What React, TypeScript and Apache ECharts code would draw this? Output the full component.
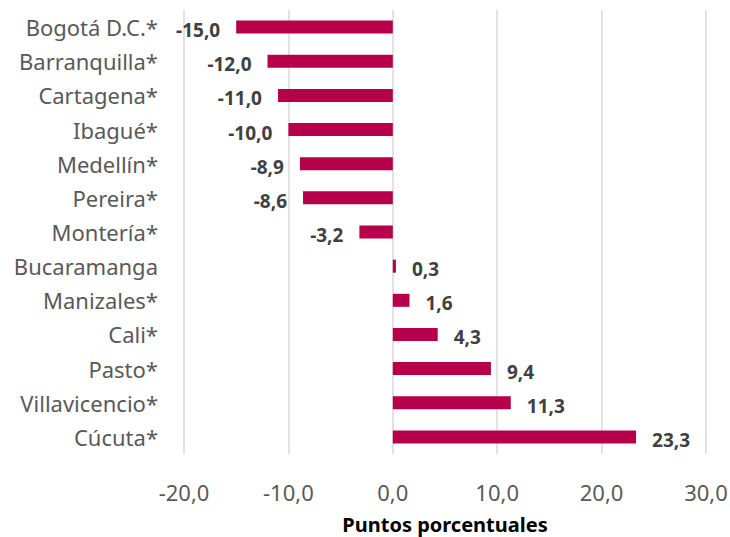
import React, { useEffect, useRef } from "react";
import * as echarts from "echarts";

const categories = [
  "Bogotá D.C.*",
  "Barranquilla*",
  "Cartagena*",
  "Ibagué*",
  "Medellín*",
  "Pereira*",
  "Montería*",
  "Bucaramanga",
  "Manizales*",
  "Cali*",
  "Pasto*",
  "Villavicencio*",
  "Cúcuta*",
];
const values = [-15.0, -12.0, -11.0, -10.0, -8.9, -8.6, -3.2, 0.3, 1.6, 4.3, 9.4, 11.3, 23.3];
const axisMin = -20;
const axisMax = 30;
const axisStep = 10;
const axisTitle = "Puntos porcentuales";

const fmt = (v: number) => v.toFixed(1).replace(".", ",");
const FONT = "'Noto Sans', 'Open Sans', sans-serif";

export default function App() {
  const ref = useRef<HTMLDivElement>(null);
  useEffect(() => {
    document.body.style.margin = "0";
    if (!ref.current) return;
    const chart = echarts.init(ref.current, undefined, { renderer: "svg" });
    chart.setOption({
      animation: false,
      backgroundColor: "#ffffff",
      grid: { left: 184, right: 24, top: 10, bottom: 83, containLabel: false, outerBoundsMode: "none" },
      xAxis: {
        type: "value",
        min: axisMin,
        max: axisMax,
        interval: axisStep,
        name: axisTitle,
        nameLocation: "middle",
        nameGap: 60,
        nameTextStyle: { fontFamily: FONT, fontSize: 20, lineHeight: 20, fontWeight: "bold", color: "#000000" },
        axisLine: { show: false },
        axisTick: { show: false },
        splitLine: { show: true, lineStyle: { color: "#d9d9d9", width: 1.5 } },
        axisLabel: {
          margin: 27,
          fontFamily: FONT,
          fontSize: 22,
          color: "#595959",
          formatter: (v: number) => fmt(v),
        },
      },
      yAxis: {
        type: "category",
        data: categories,
        inverse: true,
        axisLine: { show: false, onZero: false },
        axisTick: { show: false },
        splitLine: { show: false },
        axisLabel: { margin: 26, fontFamily: FONT, fontSize: 22, color: "#595959" },
      },
      series: [
        {
          type: "bar",
          barWidth: 13,
          itemStyle: { color: "#b7004b" },
          data: values.map((v) => ({
            value: v,
            label: { position: v < 0 ? "left" : "right" },
          })),
          label: {
            show: true,
            distance: 16,
            offset: [0, 3],
            fontFamily: FONT,
            fontSize: 19,
            fontWeight: "bold",
            color: "#404040",
            formatter: (p: any) => fmt(p.value),
          },
        },
      ],
    });
    return () => chart.dispose();
  }, []);
  return <div ref={ref} style={{ width: 730, height: 537 }} />;
}
